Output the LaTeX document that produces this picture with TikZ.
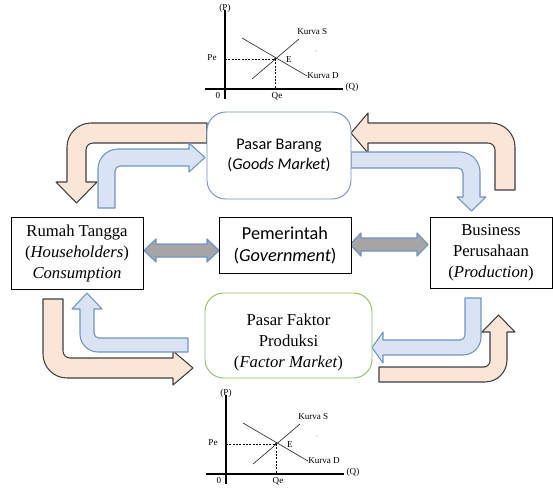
\documentclass[tikz,border=0pt]{standalone}
\usepackage{fontspec}
\setmainfont{Liberation Serif}
\newfontfamily\calfont{Carlito}
\definecolor{peach}{HTML}{FBE5D6}
\definecolor{lblue}{HTML}{DAE3F3}
\definecolor{bblue}{HTML}{7094C4}
\definecolor{mgreen}{HTML}{8CC262}
\definecolor{mgray}{HTML}{A5A5A5}
\tikzset{
  sector/.style={draw=black, line width=0.7pt, fill=white, align=center,
    font=\fontsize{12.5}{15.75}\selectfont, inner sep=0pt},
  market/.style={sector, rounded corners=14pt},
  flowO/.style={fill=peach, draw=black!75, line width=0.8pt, line join=round},
  flowB/.style={fill=lblue, draw=bblue, line width=0.8pt, line join=round},
  garrow/.style={fill=mgray, draw=bblue, line width=0.9pt, line join=round},
  gtext/.style={font=\fontsize{6.8}{8}\selectfont, inner sep=0pt},
  dashline/.style={line width=0.45pt, dash pattern=on 1.5pt off 1pt},
}
\begin{document}
\begin{tikzpicture}[x=0.75pt, y=-0.75pt]
  \useasboundingbox (0,0) rectangle (553,487);

  % supply / demand graphs (top and bottom)
  \foreach \gy in {0,385}{
  \begin{scope}[shift={(\gy/385,\gy)}]
    % axes
    \draw[line width=1.3pt] (225,10) -- (225,99);
    \draw[line width=1.3pt] (205,89) -- (343,89);
    % curves
    \draw[line width=0.5pt, black!80] (252,79) -- (299,39);
    \draw[line width=0.5pt, black!80] (242,38) -- (307,76);
    % equilibrium
    \draw[dashline] (225,59) -- (275,59) -- (275,89);
    \fill (275,59) circle (0.9pt);
    \fill[black!45] (316,51) circle (0.4pt);
    \node[gtext] (p\gy)  at (225,8)  {(P)};
    \node[gtext] (q\gy)  at (352,87) {(Q)};
    \node[gtext] (o\gy)  at (218,96) {0};
    \node[gtext] (pe\gy) at (212,58) {Pe};
    \node[gtext] (qe\gy) at (277,96) {Qe};
    \node[gtext] (e\gy)  at (289,60) {E};
    \node[gtext, anchor=west] (ks\gy) at (297,32) {Kurva S};
    \node[gtext, anchor=west] (kd\gy) at (307,76) {Kurva D};
  \end{scope}
  }

  % flows, upper half
  \draw[flowO] (207,123) -- (91,123) .. controls (77.75,123) and (67,133.75) .. (67,147)
    -- (67,182) -- (56,182) -- (76.5,203) -- (97,182) -- (86,182)
    -- (86,150) .. controls (86,146.1) and (89.1,143) .. (93,143) -- (207,143) -- cycle;
  \draw[flowB] (98,208) -- (98,169) .. controls (98,157.96) and (106.96,149) .. (118,149)
    -- (189,149) -- (189,143) -- (205,157.5) -- (189,172) -- (189,166)
    -- (120,166) .. controls (117.24,166) and (115,168.24) .. (115,171) -- (115,208) -- cycle;
  \draw[flowO] (515,190) -- (515,147) .. controls (515,133.75) and (504.25,123) .. (491,123)
    -- (368,123) -- (368,113) -- (351,133) -- (368,153) -- (368,143)
    -- (488,143) .. controls (491.9,143) and (495,146.1) .. (495,150) -- (495,190) -- cycle;
  \draw[flowB] (351,152) -- (460,152) .. controls (471.04,152) and (480,160.96) .. (480,172)
    -- (480,197) -- (486,197) -- (471.5,211) -- (457,197) -- (463,197)
    -- (463,173) .. controls (463,170.24) and (460.76,168) .. (458,168) -- (351,168) -- cycle;

  % flows, lower half
  \draw[flowO] (43,299) -- (43,354) .. controls (43,367.25) and (53.75,378) .. (67,378)
    -- (173,378) -- (173,385) -- (193,368) -- (173,351) -- (173,358)
    -- (70,358) .. controls (66.14,358) and (63,354.86) .. (63,351) -- (63,299) -- cycle;
  \draw[flowB] (188,338) -- (99,338) .. controls (96.24,338) and (94,335.76) .. (94,333)
    -- (94,309) -- (102,309) -- (87,293) -- (72,309) -- (80,309)
    -- (80,334) .. controls (80,343.94) and (88.06,352) .. (98,352) -- (188,352) -- cycle;
  \draw[flowB] (465,298) -- (465,335) .. controls (465,337.76) and (462.76,340) .. (460,340)
    -- (383,340) -- (383,332) -- (372,347.5) -- (383,363) -- (383,355)
    -- (463,355) .. controls (472.94,355) and (481,346.94) .. (481,337) -- (481,298) -- cycle;
  \draw[flowO] (379,367) -- (484,367) .. controls (487.31,367) and (490,363.69) .. (490,361)
    -- (490,332) -- (482,332) -- (498.5,315) -- (515,332) -- (507,332)
    -- (507,360) .. controls (507,372.14) and (497.14,382) .. (485,382) -- (379,382) -- cycle;

  % government links
  \draw[garrow] (144,250.5) -- (156,239) -- (156,244) -- (207,244) -- (207,239) -- (219,250.5)
    -- (207,262) -- (207,257) -- (156,257) -- (156,262) -- cycle;
  \draw[garrow] (350,244.5) -- (361,233) -- (361,238) -- (417,238) -- (417,233) -- (428,244.5)
    -- (417,256) -- (417,251) -- (361,251) -- (361,256) -- cycle;

  % sectors and markets
  \node[market, draw=bblue, font=\calfont\fontsize{12.2}{15}\selectfont,
    minimum width=108pt, minimum height=65.25pt] (gm) at (279,155.5)
    {Pasar Barang\\(\textit{Goods Market})};
  \node[sector, minimum width=99pt, minimum height=54pt] (rt) at (77,253)
    {Rumah Tangga\\(\textit{Householders})\\\textit{Consumption}};
  \node[sector, font=\calfont\fontsize{13.7}{16.5}\selectfont,
    minimum width=99pt, minimum height=42pt] (gov) at (285,245)
    {Pemerintah\\(\textit{Government})};
  \node[sector, minimum width=91.5pt, minimum height=53.25pt] (bus) at (491,252.5)
    {Business\\Perusahaan\\(\textit{Production})};
  \node[market, draw=mgreen, minimum width=125.25pt, minimum height=63.75pt] (fm) at (288.5,335.5) {};
  \node[align=center, font=\fontsize{12.5}{15.75}\selectfont, inner sep=0pt] (fmtext) at (288.5,342)
    {Pasar Faktor\\Produksi\\(\textit{Factor Market})};
\end{tikzpicture}
\end{document}
